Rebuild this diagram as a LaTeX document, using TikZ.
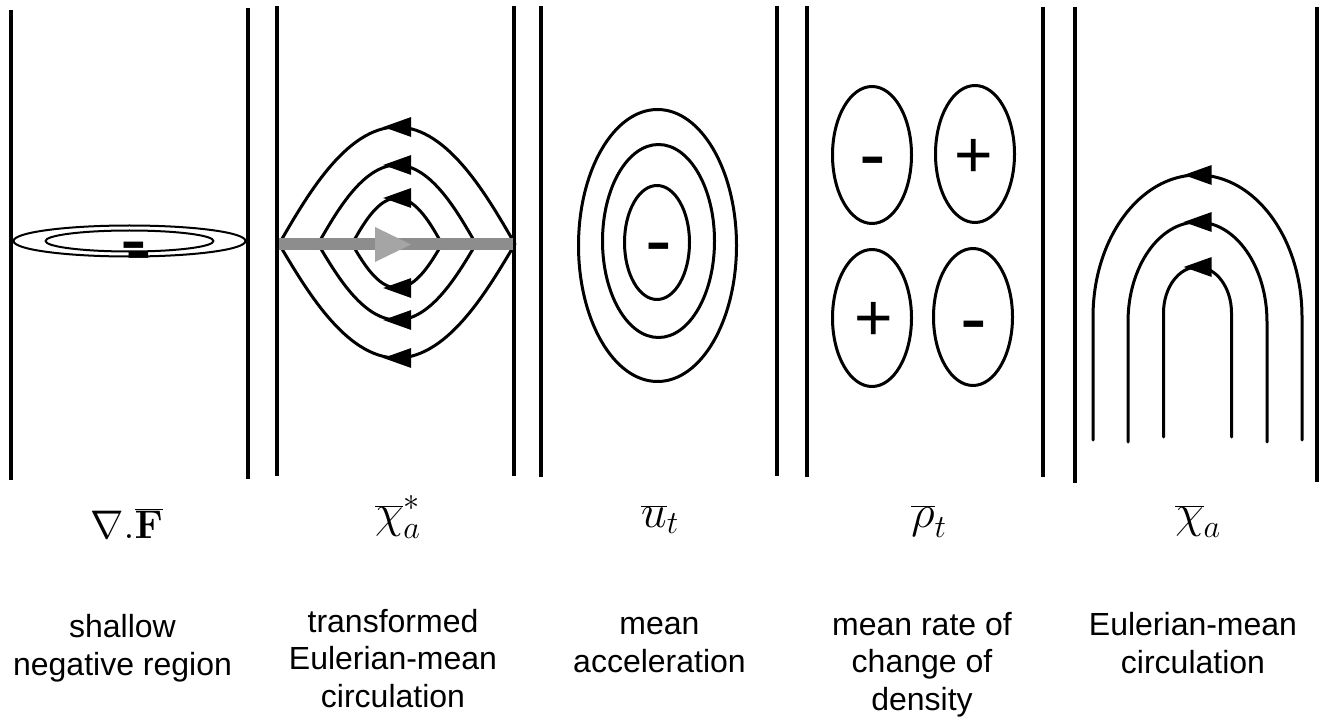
\documentclass[tikz,border=0pt]{standalone}
\usepackage{fix-cm}
\usepackage[no-math]{fontspec}
\setmainfont{Liberation Sans}
\usetikzlibrary{arrows.meta,decorations.markings}

\definecolor{barGray}{RGB}{141,141,141}
\definecolor{tipGray}{RGB}{165,165,165}

\tikzset{
  wall/.style={line width=3.8pt, line cap=butt},
  contour/.style={line width=3pt},
  flowline/.style={line width=3pt, postaction={decorate},
    decoration={markings, mark=at position 0.5 with
      {\arrow[xshift=14pt]{Triangle[length=28pt,width=19pt]}}}},
  sign/.style={font=\fontsize{66}{66}\selectfont, inner sep=0pt, anchor=base},
  minus/.style={sign, font=\fontsize{80}{80}\selectfont},
  mathlabel/.style={font=\fontsize{46}{46}\selectfont, inner sep=0pt, anchor=base},
  caption/.style={font=\fontsize{32}{37.5}\selectfont, align=center, inner sep=0pt, anchor=base}
}

\begin{document}
\begin{tikzpicture}[line cap=round, line join=round, x=1pt, y=-1pt]
  \useasboundingbox (0,0) rectangle (1333,719);

  % channel walls
  \foreach \xw/\ya/\yb in {11/10/480, 248/8/479, 277/6/476, 514/6/476, 541/6/477,
      777/6/476, 807/6/477, 1043/7/477, 1075/7/483, 1317/7/482}
    \draw[wall] (\xw,\ya) -- (\xw,\yb);

  % shallow negative region
  \draw[line width=2pt] (129.5,241) ellipse[x radius=116, y radius=15.5];
  \draw[line width=2pt] (129.5,241) ellipse[x radius=84, y radius=10.5];
  \node[minus] (negIn) at (134,267) {-};
  \node[minus] (negOut) at (139,277) {-};

  % transformed circulation: lens shaped streamlines
  \foreach \hw/\ht/\hb in {118/117/114, 79/79/76, 45/46/44} {
    \draw[flowline] ({397+\hw},244) .. controls ({397+0.78*\hw},{244-0.38*\ht}) and ({397+0.44*\hw},{244-\ht}) .. (397,{244-\ht})
      .. controls ({397-0.44*\hw},{244-\ht}) and ({397-0.78*\hw},{244-0.38*\ht}) .. ({397-\hw},244);
    \draw[flowline] ({397+\hw},244) .. controls ({397+0.78*\hw},{244+0.38*\hb}) and ({397+0.44*\hw},{244+\hb}) .. (397,{244+\hb})
      .. controls ({397-0.44*\hw},{244+\hb}) and ({397-0.78*\hw},{244+0.38*\hb}) .. ({397-\hw},244);
  }
  \draw[line width=12pt, barGray, line cap=butt] (279,244) -- (513,244);
  \fill[tipGray] (375,227) -- (411,244.5) -- (375,262) -- cycle;

  % mean acceleration
  \foreach \cx/\cy/\rx/\ry in {657.5/245.5/79/136, 658.5/241/56/96.5, 657/242.5/32.5/57}
    \draw[contour] (\cx,\cy) ellipse[x radius=\rx, y radius=\ry];
  \node[minus] (accel) at (659,268) {-};

  % density tendency
  \foreach \cx/\cy in {872/155, 975/154, 872/318, 973/317}
    \draw[contour] (\cx,\cy) ellipse[x radius=39.5, y radius=68.5];
  \node[minus] (rhoNW) at (873,182) {-};
  \node[sign] (rhoNE) at (974,178) {+};
  \node[sign] (rhoSW) at (874,340) {+};
  \node[minus] (rhoSE) at (974,345) {-};

  % Eulerian-mean circulation
  \foreach \rx/\ry/\yt/\yb in {104.5/142/317/440, 69.5/100/322/442, 34/46/313/437}
    \draw[flowline] ({1197.5+\rx},\yb) -- ({1197.5+\rx},\yt)
      arc[start angle=0, end angle=-180, x radius=\rx, y radius=\ry] -- ({1197.5-\rx},\yb);

  % symbols
  \node[mathlabel, font=\fontsize{40}{40}\selectfont] (divF) at (126.6,538) {$\nabla.\overline{\mathbf{F}}$};
  \node[mathlabel] (chiStar) at (397.7,527) {$\overline{\chi}^*_a$};
  \node[mathlabel] (uT) at (660,527) {$\overline{u}_t$};
  \node[mathlabel] (rhoT) at (929,527) {$\overline{\rho}_t$};
  \node[mathlabel] (chiA) at (1198,527) {$\overline{\chi}_a$};

  % captions
  \node[caption] (capA) at (122.5,675) {shallow\\negative region};
  \node[caption] (capB) at (393,707) {transformed\\Eulerian-mean\\circulation};
  \node[caption] (capC) at (659.5,672) {mean\\acceleration};
  \node[caption] (capD) at (922,710) {mean rate of\\change of\\density};
  \node[caption] (capE) at (1193,673) {Eulerian-mean\\circulation};
\end{tikzpicture}
\end{document}
